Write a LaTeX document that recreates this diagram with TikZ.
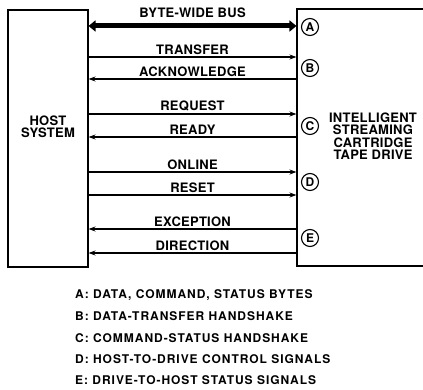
\documentclass[tikz,border=0pt]{standalone}
\usepackage{fontspec}
\setmainfont{TeX Gyre Heros}[LetterSpace=2]
\newfontfamily\keyfont{TeX Gyre Heros}[LetterSpace=8]
\usetikzlibrary{arrows.meta}

\begin{document}
\begin{tikzpicture}[x=1pt, y=-1pt, >={Stealth[length=7pt,width=5pt]},
  font=\fontsize{13}{12.5}\selectfont\bfseries,
  unitbox/.style={draw, line width=1.1pt, minimum height=257pt},
  tag/.style={draw, circle, line width=1.1pt, inner sep=0pt, minimum size=17pt, font=\fontsize{12}{12}\selectfont\bfseries},
  keyline/.style={anchor=west, inner sep=0pt, font=\keyfont\fontsize{12}{12}\selectfont\bfseries}]
  \useasboundingbox (0,0) rectangle (423,390);
  % the two units
  \node[unitbox, minimum width=80pt] (host) at (48,138.5) {};
  \node[unitbox, minimum width=142pt] (drive) at (368,137.5) {};
  \node[align=center] (hostname) at (48,127) {HOST\\SYSTEM};
  \node[align=center] (drivename) at (373,136) {INTELLIGENT\\STREAMING\\CARTRIDGE\\TAPE DRIVE};
  % data bus
  \coordinate (bus) at (0,26);
  \draw[line width=5pt, {Triangle[length=7pt,width=11pt]}-{Triangle[length=7pt,width=11pt]}]
    (host.east |- bus) -- node[above=3pt] {BYTE-WIDE BUS} (drive.west |- bus);
  % control lines
  \foreach \y/\sig/\dir in {57/TRANSFER/->, 79/ACKNOWLEDGE/<-, 114/REQUEST/->, 137/READY/<-,
      172/ONLINE/->, 195/RESET/->, 229/EXCEPTION/<-, 253/DIRECTION/<-} {
    \coordinate (s) at (0,\y);
    \draw[\dir, line width=1.1pt] (host.east |- s) -- node[above, inner sep=2pt] {\sig} (drive.west |- s);
  }
  % group tags
  \foreach \y/\g in {27/A, 68/B, 126/C, 182/D, 238/E}
    \node[tag] (tag\g) at (310,\y) {\g};
  % key
  \foreach \y/\txt in {295/{A: DATA, COMMAND, STATUS BYTES}, 316.5/{B: DATA-TRANSFER HANDSHAKE},
      338/{C: COMMAND-STATUS HANDSHAKE}, 359/{D: HOST-TO-DRIVE CONTROL SIGNALS},
      380/{E: DRIVE-TO-HOST STATUS SIGNALS}}
    \node[keyline] (key\y) at (75,\y) {\txt};
\end{tikzpicture}
\end{document}
